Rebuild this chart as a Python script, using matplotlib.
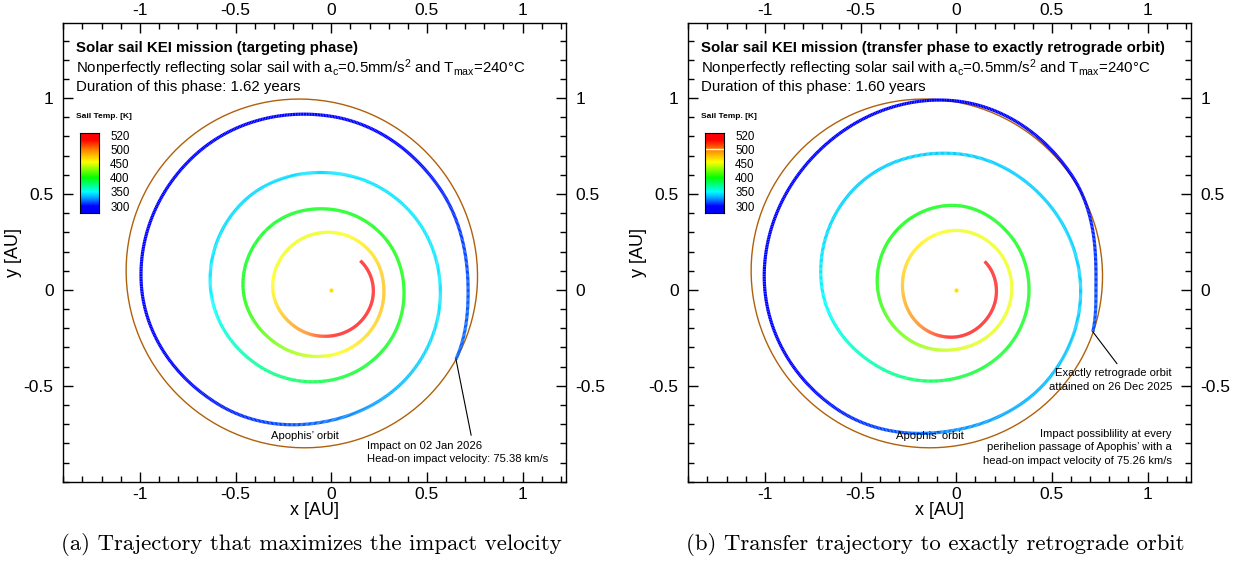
import numpy as np
import matplotlib
matplotlib.use('Agg')
import matplotlib.pyplot as plt
from matplotlib.patches import Ellipse
from matplotlib.collections import LineCollection
from matplotlib.colors import LinearSegmentedColormap, FuncNorm
import matplotlib.ticker as mticker

plt.rcParams['font.family'] = ['Liberation Sans', 'DejaVu Sans']
plt.rcParams['mathtext.fontset'] = 'custom'
plt.rcParams['mathtext.rm'] = 'Liberation Sans'
plt.rcParams['mathtext.it'] = 'Liberation Sans:italic'
plt.rcParams['mathtext.bf'] = 'Liberation Sans:bold'

# ---------------- data ----------------
temp_levels = [300, 350, 400, 450, 500, 520]          # colour legend levels [K]
cbar_tick_labels = ['300', '350', '400', '450', '500', '520']
axis_ticks = [-1, -0.5, 0, 0.5, 1]
y_axis_ticks = [-0.5, 0, 0.5, 1]

# Apophis orbit (semi-major axis [AU], eccentricity, longitude of perihelion [deg])
apophis_a = 0.922
apophis_e = 0.191
apophis_peri_lon = -29.2

# (a) targeting phase: polar angle [deg] (clockwise), radius [AU], sail temperature [K]
left_theta = [45, 0, -45, -90, -135, -180, -225, -270, -315, -360, -405, -450,
              -495, -540, -585, -630, -675, -720, -765, -810, -855, -900, -945,
              -990, -1035, -1080, -1125, -1170, -1215, -1260, -1305, -1350,
              -1395, -1440, -1469]
left_r = [0.215, 0.22, 0.225, 0.24, 0.27, 0.305, 0.31, 0.30, 0.285, 0.275, 0.295, 0.34,
          0.40, 0.46, 0.46, 0.42, 0.39, 0.38, 0.41, 0.47, 0.55, 0.63, 0.65,
          0.61, 0.58, 0.57, 0.60, 0.68, 0.84, 0.99, 1.0, 0.905,
          0.78, 0.715, 0.745]
left_T = [520, 520, 518, 512, 490, 458, 452, 452, 465, 478, 470, 452,
          425, 400, 396, 398, 400, 400, 396, 390, 370, 348, 342,
          344, 345, 345, 338, 320, 305, 295, 292, 295,
          305, 315, 318]

# (b) transfer phase to exactly retrograde orbit
right_theta = [45, 0, -45, -90, -135, -180, -225, -270, -315, -360, -405, -450,
               -495, -540, -585, -630, -675, -720, -765, -810, -855, -900, -945,
               -990, -1035, -1080, -1125, -1170, -1215, -1260, -1305, -1350,
               -1395, -1440, -1457]
right_r = [0.21, 0.21, 0.22, 0.245, 0.265, 0.28, 0.30, 0.31, 0.30, 0.29, 0.29, 0.31,
           0.36, 0.41, 0.44, 0.44, 0.40, 0.38, 0.40, 0.46, 0.57, 0.70, 0.75,
           0.71, 0.66, 0.65, 0.67, 0.73, 0.88, 1.0, 1.02, 0.985,
           0.85, 0.73, 0.746]
right_T = [520, 520, 520, 515, 500, 480, 462, 452, 452, 452, 450, 445,
           425, 405, 400, 398, 398, 398, 395, 390, 368, 348, 340,
           340, 340, 340, 335, 325, 305, 295, 292, 295,
           300, 312, 315]

left_title = ["Solar sail KEI mission (targeting phase)",
              r"Nonperfectly reflecting solar sail with a$_\mathregular{c}$=0.5mm/s$^\mathregular{2}$ and T$_\mathregular{max}$=240°C",
              "Duration of this phase: 1.62 years"]
right_title = ["Solar sail KEI mission (transfer phase to exactly retrograde orbit)",
               r"Nonperfectly reflecting solar sail with a$_\mathregular{c}$=0.5mm/s$^\mathregular{2}$ and T$_\mathregular{max}$=240°C",
               "Duration of this phase: 1.60 years"]
captions = ["(a) Trajectory that maximizes the impact velocity",
            "(b) Transfer trajectory to exactly retrograde orbit"]

# ---------------- colour scale ----------------
level_pos = np.linspace(0, 1, len(temp_levels))
def fwd(t):
    return np.interp(t, temp_levels, level_pos)
def inv(u):
    return np.interp(u, level_pos, temp_levels)
norm = FuncNorm((fwd, inv), vmin=temp_levels[0], vmax=temp_levels[-1])
cmap = LinearSegmentedColormap.from_list('tec', [
    (0.0, '#0000ff'), (0.10, '#0090ff'), (0.20, '#00ffff'), (0.40, '#00ff00'),
    (0.62, '#ffff00'), (0.78, '#ff8c00'), (0.93, '#ff0000'), (1.0, '#ff0000')])
cmap.set_under('#0000ff')
cmap.set_over('#ff0000')


def smooth_curve(xp, fp, x):
    """cubic Hermite (Catmull-Rom slopes) rendering between read-off points"""
    xp = np.asarray(xp, float); fp = np.asarray(fp, float)
    m = np.gradient(fp, xp)
    i = np.clip(np.searchsorted(xp, x) - 1, 0, len(xp) - 2)
    h = xp[i + 1] - xp[i]
    t = (x - xp[i]) / h
    return ((2*t**3 - 3*t**2 + 1) * fp[i] + (t**3 - 2*t**2 + t) * h * m[i]
            + (-2*t**3 + 3*t**2) * fp[i + 1] + (t**3 - t**2) * h * m[i + 1])


def draw_spiral(ax, theta, r, T):
    th = -np.asarray(theta, float)           # increasing
    ths = np.linspace(th[0], th[-1], int(th[-1] - th[0]) * 2 + 1)
    rs = smooth_curve(th, r, ths)
    Ts = smooth_curve(th, T, ths)
    ang = np.radians(-ths)
    x, y = rs * np.cos(ang), rs * np.sin(ang)
    pts = np.column_stack([x, y]).reshape(-1, 1, 2)
    segs = np.concatenate([pts[:-1], pts[1:]], axis=1)
    lc = LineCollection(segs, cmap=cmap, norm=norm, linewidths=2.3,
                        capstyle='butt', joinstyle='round', zorder=3)
    lc.set_array(0.5 * (Ts[:-1] + Ts[1:]))
    ax.add_collection(lc)
    return x[-1], y[-1]


def setup_axes(ax):
    ax.set_xlim(-1.4, 1.225)
    ax.set_ylim(-1.0, 1.39)
    ax.set_aspect('auto')
    ax.set_xticks(axis_ticks)
    ax.set_yticks(y_axis_ticks)
    fmt = mticker.FuncFormatter(lambda v, p: f"{v:g}")
    ax.xaxis.set_major_formatter(fmt)
    ax.yaxis.set_major_formatter(fmt)
    ax.xaxis.set_minor_locator(mticker.MultipleLocator(0.1))
    ax.yaxis.set_minor_locator(mticker.MultipleLocator(0.1))
    ax.tick_params(which='both', direction='in', top=True, right=True,
                   labeltop=True, labelright=True, width=1.0, color='black')
    ax.tick_params(which='major', length=7, labelsize=12.5)
    ax.tick_params(axis='x', which='major', pad=4)
    ax.tick_params(axis='y', which='major', pad=7)
    ax.tick_params(which='minor', length=4)
    for s in ax.spines.values():
        s.set_linewidth(1.0)
    ax.set_xlabel('x [AU]', fontsize=13, labelpad=0)
    ax.set_ylabel('y [AU]', fontsize=13, labelpad=1)


def draw_apophis(ax):
    c = apophis_a * apophis_e
    ang = np.radians(apophis_peri_lon)
    b = apophis_a * np.sqrt(1 - apophis_e**2)
    ell = Ellipse((-c * np.cos(ang), -c * np.sin(ang)), 2 * apophis_a, 2 * b,
                  angle=apophis_peri_lon, fill=False, edgecolor='#b0600a',
                  linewidth=1.0, zorder=2)
    ax.add_patch(ell)


def draw_title(ax, lines):
    ys = [0.947, 0.903, 0.861]
    for i, (txt, yy) in enumerate(zip(lines, ys)):
        ax.text(0.026, yy, txt, transform=ax.transAxes, fontsize=10.8,
                fontweight='bold' if i == 0 else 'normal', va='center', ha='left')


def draw_colorbar(fig, rect, white_line=False):
    cax = fig.add_axes(rect)
    lo, hi = -0.094, 1.024
    grad = np.linspace(lo, hi, 300)[:, None]
    cax.imshow(grad, aspect='auto', origin='lower', extent=[0, 1, lo, hi],
               cmap=cmap, vmin=0, vmax=1)
    cax.set_ylim(lo, hi)
    cax.set_xlim(0, 1)
    cax.set_xticks([])
    cax.set_yticks(norm(np.array(temp_levels)))
    cax.set_yticklabels(cbar_tick_labels)
    cax.tick_params(axis='y', length=0, labelleft=False, labelright=True,
                    labelsize=8.3, pad=8)
    for s in cax.spines.values():
        s.set_linewidth(0.8)
    if white_line:
        cax.axhline(norm(500), color='white', lw=1.0)
    return cax


fig = plt.figure(figsize=(12.39, 5.66), dpi=100)
W, H = 1239.0, 566.0
axL = fig.add_axes([63.3 / W, 1 - 481.7 / H, 502.4 / W, 458.4 / H])
axR = fig.add_axes([688.3 / W, 1 - 481.7 / H, 502.4 / W, 458.4 / H])

ends = []
for ax, th, r, T, title in [(axL, left_theta, left_r, left_T, left_title),
                            (axR, right_theta, right_r, right_T, right_title)]:
    setup_axes(ax)
    draw_apophis(ax)
    ends.append(draw_spiral(ax, th, r, T))
    ax.plot([0], [0], 'o', color='#ffe000', ms=3, mec='none', zorder=4)
    draw_title(ax, title)
    ax.text(-0.14, -0.76, "Apophis\u2019 orbit", fontsize=8.1, ha='center', va='center')

fs = 8.1
# annotations (a)
axL.annotate('', xy=ends[0], xytext=(0.731, -0.758),
             arrowprops=dict(arrowstyle='-', lw=0.8, color='black', shrinkA=0, shrinkB=0))
axL.text(0.188, -0.813, "Impact on 02 Jan 2026", fontsize=fs, ha='left', va='center')
axL.text(0.188, -0.880, "Head-on impact velocity: 75.38 km/s", fontsize=fs, ha='left', va='center')

# annotations (b)
axR.annotate('', xy=ends[1], xytext=(0.84, -0.385),
             arrowprops=dict(arrowstyle='-', lw=0.8, color='black', shrinkA=0, shrinkB=0))
axR.text(1.127, -0.432, "Exactly retrograde orbit", fontsize=fs, ha='right', va='center')
axR.text(1.127, -0.505, "attained on 26 Dec 2025", fontsize=fs, ha='right', va='center')
axR.text(1.127, -0.750, "Impact possiblility at every", fontsize=fs, ha='right', va='center')
axR.text(1.127, -0.821, "perihelion passage of Apophis\u2019 with a", fontsize=fs, ha='right', va='center')
axR.text(1.127, -0.892, "head-on impact velocity of 75.26 km/s", fontsize=fs, ha='right', va='center')

# colour legends
for x0, wl in [(80.0, False), (705.0, True)]:
    draw_colorbar(fig, [x0 / W, 1 - 212.7 / H, 19 / W, 79.4 / H], white_line=wl)
    fig.text((x0 - 4) / W, 1 - 117 / H, "Sail Temp. [K]", fontsize=6,
             fontweight='bold', ha='left', va='center')

# captions
fig.text(311 / W, 1 - 545 / H, captions[0], fontsize=16.4, family='cmr10',
         ha='center', va='center')
fig.text(935 / W, 1 - 545 / H, captions[1], fontsize=16.4, family='cmr10',
         ha='center', va='center')

fig.savefig('out.png', dpi=100)
